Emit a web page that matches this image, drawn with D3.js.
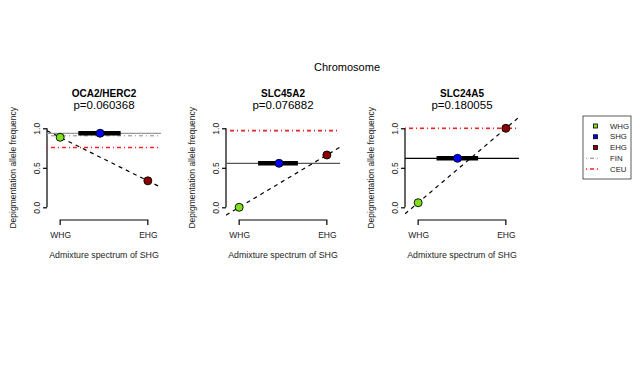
<!DOCTYPE html>
<html>
<head>
<meta charset="utf-8">
<style>
  body { margin: 0; background: #fff; }
  svg { display: block; font-family: "Liberation Sans", Arial, Helvetica, sans-serif; }
</style>
</head>
<body>
<svg width="640" height="368"></svg>
<script src="https://cdn.jsdelivr.net/npm/d3@7"></script>
<script>

// --- data ---
var genes = ["OCA2/HERC2", "SLC45A2", "SLC24A5"];
var pvalues = ["p=0.060368", "p=0.076882", "p=0.180055"];
var whgFreq = [0.886, 0.0, 0.058];
var shgFreq = [0.937, 0.557, 0.62];
var ehgFreq = [0.335, 0.662, 1.0];
var finFreq = [0.905, 0.965, 0.995];
var ceuFreq = [0.758, 0.973, 1.0];
var shgPos = [0.456, 0.455, 0.449];      // admixture position of SHG
var shgLo = [0.207, 0.216, 0.21];
var shgHi = [0.69, 0.67, 0.684];
var xTickLabels = ["WHG", "EHG"];
var yTicks = [0, 0.5, 1];
var legendLabels = ["WHG", "SHG", "EHG", "FIN", "CEU"];

// --- styles ---
var popColors = {WHG: "#7fe01c", SHG: "#0000ff", EHG: "#8b0000"};
var shgLineColor = ["#999999", "#555555", "#000000"];

var svg = d3.select("svg"),
    panelLeft = [47, 226, 405],
    panelWidth = 114,
    y = d3.scaleLinear().domain([0, 1]).range([207.3, 128.3]);

svg.append("text")
    .attr("x", 347).attr("y", 71)
    .attr("text-anchor", "middle")
    .attr("font-size", "11px")
    .text("Chromosome");

var defs = svg.append("defs");

genes.forEach(function(gene, i) {
  var left = panelLeft[i];
  var x = d3.scaleLinear().domain([-0.15, 1.15]).range([left, left + panelWidth]);
  var cx = left + panelWidth / 2;
  var g = svg.append("g");

  defs.append("clipPath").attr("id", "clip" + i)
    .append("rect")
      .attr("x", left).attr("y", 100)
      .attr("width", panelWidth).attr("height", 118);

  // titles
  g.append("text")
      .attr("x", cx).attr("y", 97)
      .attr("text-anchor", "middle")
      .attr("font-weight", "bold")
      .attr("font-size", "10px")
      .text(gene);
  g.append("text")
      .attr("x", cx).attr("y", 108.5)
      .attr("text-anchor", "middle")
      .attr("font-size", "11.5px")
      .text(pvalues[i]);

  // y axis
  var ya = g.append("g")
      .attr("transform", "translate(" + left + ",0)")
      .call(d3.axisLeft(y).tickValues(yTicks).tickSize(4).tickPadding(6)
        .tickFormat(d3.format(".1f")));
  ya.select(".domain").attr("d", "M0," + y(0) + "V" + y(1)).attr("stroke-width", 1.2);
  ya.selectAll(".tick line").attr("stroke-width", 1.2);
  ya.selectAll(".tick text")
      .attr("font-size", "8.5px")
      .attr("font-family", null)
      .attr("x", -10).attr("y", 0).attr("dy", "0.32em")
      .attr("transform", "rotate(-90,-10,0)")
      .attr("text-anchor", "middle")
      .attr("fill", "#222");

  g.append("text")
      .attr("transform", "translate(" + (left - 31) + "," + y(0.5) + ") rotate(-90)")
      .attr("text-anchor", "middle")
      .attr("font-size", "8.5px")
      .attr("fill", "#222")
      .text("Depigmentation allele frequency");

  // x axis bracket
  var xa = g.append("g")
      .attr("transform", "translate(0,220)")
      .call(d3.axisBottom(x).tickValues([0, 1]).tickSize(5).tickPadding(7)
        .tickFormat(function(d, k) { return xTickLabels[k]; }));
  xa.select(".domain").attr("d", "M" + x(0) + ",5V0H" + x(1) + "V5").attr("stroke-width", 1.2);
  xa.selectAll(".tick line").remove();
  xa.selectAll(".tick text").attr("font-size", "8.5px").attr("font-family", null).attr("fill", "#222");

  g.append("text")
      .attr("x", cx).attr("y", 258)
      .attr("text-anchor", "middle")
      .attr("font-size", "8.8px")
      .attr("fill", "#222")
      .text("Admixture spectrum of SHG");

  var plot = g.append("g").attr("clip-path", "url(#clip" + i + ")");
  var dom = x.domain();

  // FIN and CEU reference lines
  plot.append("line")
      .attr("x1", x(dom[0])).attr("x2", x(dom[1]))
      .attr("y1", y(finFreq[i])).attr("y2", y(finFreq[i]))
      .attr("stroke", "#888").attr("stroke-width", 1)
      .attr("stroke-dasharray", "1,3,4,3");
  plot.append("line")
      .attr("x1", x(dom[0])).attr("x2", x(dom[1]))
      .attr("y1", y(ceuFreq[i])).attr("y2", y(ceuFreq[i]))
      .attr("stroke", "#ff2020").attr("stroke-width", 1.5)
      .attr("stroke-dasharray", "1,3,4,3");

  // SHG level
  plot.append("line")
      .attr("x1", x(dom[0])).attr("x2", x(dom[1]))
      .attr("y1", y(shgFreq[i])).attr("y2", y(shgFreq[i]))
      .attr("stroke", shgLineColor[i]).attr("stroke-width", 1.3);
  plot.append("line")
      .attr("x1", x(shgLo[i])).attr("x2", x(shgHi[i]))
      .attr("y1", y(shgFreq[i])).attr("y2", y(shgFreq[i]))
      .attr("stroke", "#000").attr("stroke-width", 4.5);

  // WHG-EHG line
  var lineY = function(t) { return whgFreq[i] + (ehgFreq[i] - whgFreq[i]) * t; };
  plot.append("path")
      .datum(dom)
      .attr("fill", "none")
      .attr("stroke", "#000")
      .attr("stroke-width", 1.2)
      .attr("stroke-dasharray", "4,4")
      .attr("d", d3.line().x(function(t) { return x(t); }).y(function(t) { return y(lineY(t)); }));

  // points
  var pts = [
    {pop: "WHG", x: 0, y: whgFreq[i]},
    {pop: "SHG", x: shgPos[i], y: shgFreq[i]},
    {pop: "EHG", x: 1, y: ehgFreq[i]}
  ];
  g.selectAll("circle.pt").data(pts).enter().append("circle")
      .attr("class", "pt")
      .attr("cx", function(d) { return x(d.x); })
      .attr("cy", function(d) { return y(d.y); })
      .attr("r", 4)
      .attr("fill", function(d) { return popColors[d.pop]; })
      .attr("stroke", "#000")
      .attr("stroke-width", 0.9);
});

// legend
var lg = svg.append("g").attr("transform", "translate(583,116)");
lg.append("rect")
    .attr("width", 48).attr("height", 63)
    .attr("fill", "#fff").attr("stroke", "#333").attr("stroke-width", 0.8);
var rowY = d3.scalePoint().domain(legendLabels).range([10, 53]);
legendLabels.forEach(function(lab) {
  var yy = rowY(lab);
  if (popColors[lab]) {
    lg.append("rect")
        .attr("x", 10.5).attr("y", yy - 2).attr("width", 4).attr("height", 4)
        .attr("fill", popColors[lab]).attr("stroke", "#000").attr("stroke-width", 0.8);
  } else {
    lg.append("line")
        .attr("x1", 3).attr("x2", 17).attr("y1", yy).attr("y2", yy)
        .attr("stroke", lab === "CEU" ? "#ff2020" : "#888")
        .attr("stroke-width", lab === "CEU" ? 1.5 : 1)
        .attr("stroke-dasharray", "1,3,4,3");
  }
  lg.append("text")
      .attr("x", 27).attr("y", yy).attr("dy", "0.35em")
      .attr("font-size", "7.8px")
      .attr("fill", "#222")
      .text(lab);
});

</script>
</body>
</html>
